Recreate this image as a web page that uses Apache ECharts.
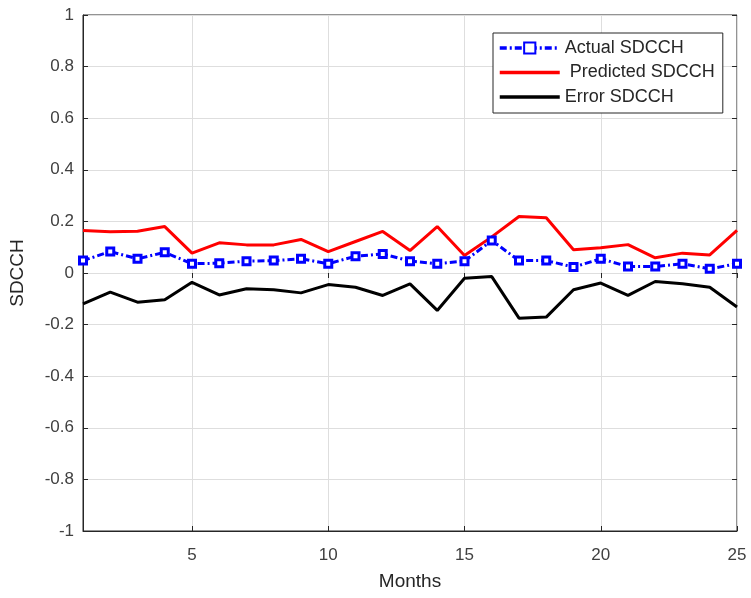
<!DOCTYPE html>
<html><head><meta charset="utf-8">
<script src="https://cdn.jsdelivr.net/npm/echarts@6/dist/echarts.min.js"></script>
<style>html,body{margin:0;padding:0;background:#fff}#c{width:751px;height:598px}</style>
</head><body><div id="c"></div>
<script>
const months = [1,2,3,4,5,6,7,8,9,10,11,12,13,14,15,16,17,18,19,20,21,22,23,24,25];
const actual = [0.048,0.083,0.055,0.080,0.036,0.038,0.046,0.048,0.055,0.036,0.065,0.074,0.046,0.036,0.046,0.126,0.048,0.048,0.023,0.055,0.025,0.025,0.036,0.016,0.036];
const predicted = [0.165,0.160,0.162,0.180,0.077,0.117,0.109,0.109,0.130,0.083,0.122,0.161,0.087,0.180,0.068,0.140,0.219,0.214,0.090,0.098,0.110,0.059,0.077,0.070,0.165];
const errorV = [-0.120,-0.074,-0.113,-0.104,-0.036,-0.085,-0.061,-0.065,-0.077,-0.045,-0.055,-0.087,-0.042,-0.145,-0.020,-0.014,-0.175,-0.171,-0.065,-0.039,-0.087,-0.033,-0.042,-0.055,-0.132];
const xTicks = [5,10,15,20,25];
const names = ['Actual SDCCH',' Predicted SDCCH','Error SDCCH'];

const pair = (ys) => months.map((m,i)=>[m, ys[i]]);
const chart = echarts.init(document.getElementById('c'));
const font = 'Liberation Sans, Arial, sans-serif';
const lineIcon = 'path://M0,0 L60,0 L60,3.5 L0,3.5 Z';
const tick = {inside:true,length:5,lineStyle:{color:'#262626'}};
chart.setOption({
  animation:false,
  backgroundColor:'#fff',
  grid:{left:83,right:14,top:15,bottom:67,show:true,borderColor:'#262626',borderWidth:1,containLabel:false},
  legend:{
    orient:'vertical', left:493, top:33,
    backgroundColor:'#fff', borderColor:'#262626', borderWidth:1,
    padding:[6,8,7,5], itemGap:6.5, itemWidth:60, itemHeight:14,
    textStyle:{fontFamily:font,fontSize:18,color:'#262626'},
    data:[
      {name:names[0], lineStyle:{width:3.5}},
      {name:names[1], icon:lineIcon},
      {name:names[2], icon:lineIcon}
    ]
  },
  xAxis:[{
    type:'value', min:1, max:25,
    name:'Months', nameLocation:'middle', nameGap:41,
    nameTextStyle:{fontFamily:font,fontSize:19,color:'#262626'},
    axisLine:{onZero:false,lineStyle:{color:'#262626'}},
    axisTick:Object.assign({customValues:xTicks},tick),
    axisLabel:{customValues:xTicks,fontFamily:font,fontSize:17,color:'#404040',margin:16},
    splitLine:{show:true,lineStyle:{color:'#dedede',width:1}}
  },{
    type:'value', min:1, max:25, position:'top',
    axisLine:{show:false},
    axisTick:Object.assign({customValues:xTicks},tick),
    axisLabel:{show:false,customValues:xTicks},
    splitLine:{show:false}
  }],
  yAxis:[{
    type:'value', min:-1, max:1, interval:0.2,
    name:'SDCCH', nameLocation:'middle', nameGap:56,
    nameTextStyle:{fontFamily:font,fontSize:19,color:'#262626'},
    axisLine:{show:true,onZero:false,lineStyle:{color:'#262626'}},
    axisTick:Object.assign({show:true},tick),
    axisLabel:{fontFamily:font,fontSize:17,color:'#404040',margin:9,
      formatter:v=>{const r=Math.round(v*10)/10;return String(r);}},
    splitLine:{show:true,lineStyle:{color:'#dedede',width:1}}
  },{
    type:'value', min:-1, max:1, interval:0.2, position:'right',
    axisLine:{show:false},
    axisTick:Object.assign({show:true},tick),
    axisLabel:{show:false},
    splitLine:{show:false}
  }],
  series:[
    {name:names[2],type:'line',data:pair(errorV),symbol:'none',
      lineStyle:{color:'#000',width:3},itemStyle:{color:'#000'},z:2},
    {name:names[1],type:'line',data:pair(predicted),symbol:'none',
      lineStyle:{color:'#ff0000',width:3},itemStyle:{color:'#ff0000'},z:3},
    {name:names[0],type:'line',data:pair(actual),symbol:'rect',symbolSize:7,
      lineStyle:{color:'#0000ff',width:3,type:[7,3,2,3]},
      itemStyle:{color:'#ffffff',borderColor:'#0000ff',borderWidth:3},z:4}
  ]
});
</script></body></html>
